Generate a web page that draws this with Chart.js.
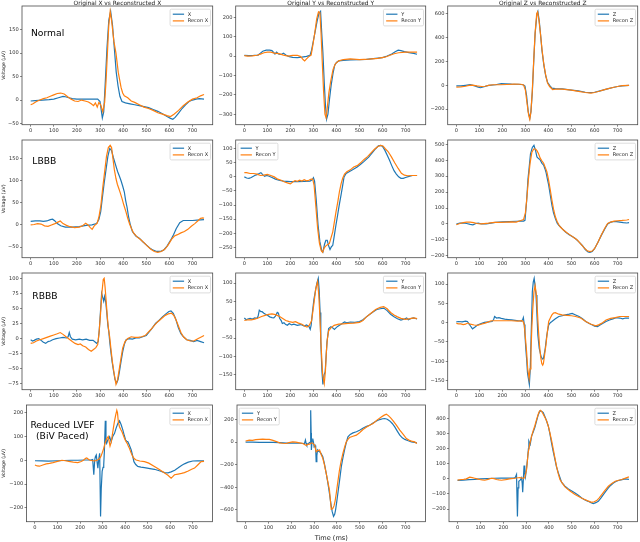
<!DOCTYPE html>
<html><head><meta charset="utf-8">
<script src="https://cdn.jsdelivr.net/npm/chart.js@4.4.1/dist/chart.umd.min.js"></script>
<style>
html,body{margin:0;padding:0;background:#fff;}
#fig{position:relative;width:640px;height:542px;overflow:hidden;background:#fff;}
#fig canvas{position:absolute;}
</style></head><body><div id="fig"></div>
<script>
// ---------------- DATA: [time (ms), voltage (uV)] ----------------
const normalX_orig = [[0,-2],[20,-1],[50,0],[80,1],[100,2],[120,5],[140,8],[150,7],[165,5],[180,3],[200,2],[230,2],[260,2],[290,2],[300,-3],[310,-38],[316,-25],[322,30],[330,110],[338,170],[346,189],[354,160],[362,110],[370,60],[378,30],[386,8],[395,-3],[410,-6],[430,-8],[450,-10],[470,-12],[490,-14],[510,-16],[530,-20],[550,-24],[570,-29],[590,-35],[605,-39],[615,-41],[625,-37],[640,-28],[655,-18],[670,-10],[685,-3],[700,0],[715,2],[730,3],[750,2]];
const normalX_recon = [[0,-10],[10,-8],[25,-3],[40,0],[55,3],[70,5],[85,8],[100,11],[115,14],[130,15],[145,13],[160,7],[175,2],[190,-2],[205,-3],[220,0],[235,-2],[250,-4],[262,-8],[272,-12],[280,-6],[288,-15],[295,-5],[303,-10],[312,-25],[320,-5],[326,40],[332,100],[338,160],[344,189],[350,170],[360,125],[369,100],[379,59],[391,27],[398,15],[405,9],[420,5],[435,-2],[450,-5],[470,-10],[490,-15],[510,-18],[530,-22],[550,-27],[570,-30],[590,-33],[605,-35],[620,-30],[640,-22],[660,-12],[680,-4],[700,2],[720,5],[735,9],[750,12]];
const normalY_orig = [[0,3],[20,2],[40,3],[60,5],[70,15],[80,25],[95,30],[110,30],[120,28],[128,18],[133,10],[140,20],[150,10],[160,8],[170,15],[180,5],[195,-3],[210,-7],[230,-8],[250,-6],[270,-2],[285,3],[292,30],[300,80],[308,130],[316,180],[324,220],[331,230],[336,120],[341,20],[347,-137],[352,-250],[357,-326],[363,-300],[370,-220],[377,-150],[385,-90],[392,-49],[400,-33],[410,-25],[430,-22],[460,-20],[500,-19],[530,-17],[560,-13],[600,-8],[620,0],[640,10],[655,22],[668,30],[680,28],[695,23],[715,18],[735,14],[750,9]];
const normalY_recon = [[0,2],[15,0],[35,1],[55,4],[70,10],[85,17],[100,20],[115,20],[130,15],[150,12],[170,5],[190,0],[210,3],[230,4],[245,-3],[255,-18],[262,-25],[270,-15],[280,-3],[290,5],[298,60],[306,120],[314,190],[322,228],[328,225],[333,120],[338,-20],[344,-180],[350,-300],[355,-318],[360,-270],[367,-190],[375,-130],[385,-70],[395,-40],[410,-25],[430,-18],[460,-15],[500,-18],[540,-16],[580,-12],[610,-6],[630,3],[650,12],[670,17],[700,20],[730,20],[750,20]];
const normalZ_orig = [[0,-5],[20,-5],[40,0],[60,5],[80,-5],[95,-15],[105,-20],[120,-12],[140,0],[170,5],[195,14],[215,12],[240,10],[270,9],[290,5],[298,-6],[305,-85],[312,-220],[319,-276],[324,-220],[330,-56],[336,200],[342,430],[350,600],[354,620],[360,540],[366,420],[372,290],[380,170],[388,80],[396,25],[405,0],[415,-23],[430,-27],[460,-30],[500,-40],[530,-47],[560,-58],[580,-62],[600,-58],[620,-48],[640,-38],[660,-28],[680,-18],[700,-10],[720,-5],[750,0]];
const normalZ_recon = [[0,-15],[20,-13],[40,-8],[55,0],[70,2],[90,-5],[110,-10],[125,-8],[140,0],[160,5],[190,5],[220,7],[250,10],[280,9],[292,3],[300,-40],[307,-150],[314,-250],[319,-285],[324,-220],[330,-40],[336,210],[342,440],[349,600],[353,615],[359,540],[366,420],[372,300],[380,175],[388,85],[396,20],[405,-10],[418,-35],[430,-32],[460,-32],[500,-40],[530,-50],[560,-60],[585,-65],[600,-60],[620,-50],[640,-38],[660,-28],[680,-18],[700,-10],[720,-3],[750,0]];

const lbbbX_orig = [[0,8],[20,9],[40,9],[55,8],[70,9],[85,12],[95,13],[105,9],[115,3],[130,-2],[150,-5],[180,-5],[210,-4],[240,-1],[265,0],[285,3],[295,12],[303,30],[311,65],[318,95],[326,125],[334,155],[342,173],[350,168],[358,152],[366,138],[376,121],[384,110],[391,100],[398,88],[405,75],[411,55],[417,40],[423,20],[430,3],[440,-15],[455,-25],[470,-30],[485,-38],[500,-45],[515,-52],[530,-57],[545,-60],[560,-60],[575,-57],[590,-48],[605,-35],[618,-22],[630,-8],[645,5],[660,10],[680,10],[700,10],[720,11],[750,12]];
const lbbbX_recon = [[0,0],[15,1],[30,3],[45,2],[60,-2],[75,-3],[90,0],[105,3],[120,7],[128,9],[140,3],[155,-1],[170,-4],[190,-6],[210,-5],[225,-2],[238,4],[248,0],[258,-6],[266,-10],[275,-2],[288,4],[296,20],[304,45],[312,85],[320,120],[328,155],[336,175],[344,180],[350,175],[356,150],[362,125],[369,105],[375,92],[381,83],[388,72],[395,60],[403,45],[412,30],[420,15],[428,2],[436,-8],[445,-18],[460,-27],[475,-33],[490,-40],[505,-48],[520,-55],[535,-60],[550,-62],[565,-60],[580,-55],[595,-45],[610,-32],[622,-25],[635,-22],[650,-18],[665,-15],[680,-10],[695,-3],[710,3],[725,10],[735,15],[745,16],[750,15]];
const lbbbY_orig = [[0,0],[10,-4],[20,-5],[30,-2],[45,5],[55,8],[65,12],[72,15],[80,8],[88,2],[96,5],[105,3],[120,-2],[135,-8],[150,-12],[170,-15],[200,-17],[230,-17],[260,-16],[285,-15],[295,-10],[300,-3],[305,-15],[312,-80],[320,-170],[328,-230],[336,-262],[341,-267],[348,-240],[354,-225],[360,-225],[366,-245],[372,-258],[378,-248],[384,-243],[391,-207],[398,-170],[405,-136],[412,-100],[420,-64],[427,-30],[433,0],[442,12],[455,18],[470,25],[490,35],[505,45],[520,55],[540,70],[555,85],[570,100],[582,110],[592,112],[600,108],[610,95],[620,78],[630,60],[640,40],[650,22],[660,10],[670,0],[680,-5],[690,-5],[700,-2],[715,2],[730,5],[750,5]];
const lbbbY_recon = [[0,15],[10,15],[25,12],[40,12],[55,10],[70,5],[85,6],[100,9],[115,5],[130,0],[145,-8],[160,-12],[175,-18],[190,-22],[200,-25],[210,-18],[220,-13],[230,-16],[240,-12],[250,-15],[260,-10],[270,-14],[280,-12],[290,-8],[297,-8],[303,-30],[310,-100],[318,-180],[326,-235],[334,-262],[340,-268],[347,-252],[354,-245],[362,-240],[369,-237],[377,-215],[384,-195],[391,-160],[398,-124],[406,-88],[413,-52],[420,-25],[427,-5],[435,10],[445,18],[460,25],[475,35],[490,40],[505,50],[520,62],[535,72],[550,85],[565,98],[580,108],[592,112],[602,110],[612,100],[624,90],[638,72],[653,50],[668,30],[682,13],[695,6],[710,4],[730,5],[750,5]];
const lbbbZ_orig = [[0,0],[15,5],[30,6],[45,3],[60,-3],[72,-5],[85,3],[95,5],[110,0],[130,0],[150,5],[170,10],[200,13],[230,15],[260,17],[280,18],[292,18],[298,23],[305,139],[311,280],[316,350],[322,440],[330,480],[337,493],[344,460],[350,420],[357,410],[364,402],[372,380],[379,370],[385,345],[390,320],[395,285],[401,244],[408,180],[415,118],[422,70],[430,34],[438,5],[445,-8],[459,-29],[474,-50],[490,-68],[505,-80],[518,-93],[532,-112],[547,-135],[560,-160],[572,-176],[580,-178],[590,-172],[600,-155],[615,-115],[630,-70],[645,-30],[657,0],[668,10],[680,15],[695,15],[710,12],[725,8],[740,6],[750,8]];
const lbbbZ_recon = [[0,-5],[15,3],[30,8],[45,12],[60,12],[75,8],[90,3],[105,0],[120,2],[140,5],[165,10],[190,10],[215,12],[240,13],[260,12],[280,22],[292,28],[300,70],[306,160],[313,280],[320,380],[328,450],[336,470],[344,470],[350,460],[357,440],[364,413],[372,395],[379,381],[386,355],[393,328],[400,280],[408,213],[415,150],[423,86],[430,45],[437,17],[445,-5],[452,-19],[465,-38],[480,-55],[495,-70],[510,-85],[525,-100],[540,-125],[555,-150],[568,-168],[580,-173],[590,-170],[600,-155],[615,-115],[630,-68],[645,-25],[657,3],[670,12],[685,18],[700,20],[720,22],[740,25],[750,28]];

const rbbbX_orig = [[0,-2],[8,-4],[15,-3],[25,-1],[35,0],[45,-3],[55,-6],[65,-8],[75,-5],[85,-4],[95,-2],[110,0],[125,1],[140,2],[155,1],[162,3],[167,10],[172,3],[180,-1],[195,-2],[210,-1],[225,-2],[240,-1],[255,-3],[270,-3],[280,-6],[286,-8],[292,-5],[297,15],[302,45],[307,75],[312,68],[316,62],[320,70],[325,60],[330,40],[334,22],[338,12],[342,-5],[347,-22],[353,-40],[359,-55],[365,-68],[372,-74],[378,-68],[384,-55],[391,-38],[398,-22],[405,-10],[413,-2],[425,0],[440,-1],[455,1],[470,1],[485,3],[500,5],[510,10],[525,17],[540,25],[555,30],[570,36],[585,41],[598,45],[607,46],[617,42],[627,33],[639,18],[650,8],[661,3],[675,-2],[690,-3],[705,-5],[720,-3],[735,-5],[750,-7]];
const rbbbX_recon = [[0,-8],[12,-7],[25,-4],[40,-2],[55,0],[70,2],[85,4],[100,6],[115,8],[128,10],[140,7],[150,4],[160,1],[170,-2],[180,-5],[192,-8],[205,-10],[215,-9],[225,-12],[238,-14],[250,-18],[262,-21],[272,-18],[282,-15],[290,-10],[296,10],[302,40],[308,75],[314,98],[318,100],[322,85],[327,60],[332,34],[337,15],[342,2],[348,-20],[354,-40],[362,-60],[369,-76],[376,-68],[384,-49],[391,-32],[398,-16],[408,-5],[420,0],[435,3],[450,2],[465,2],[480,3],[495,5],[507,10],[520,15],[535,22],[550,28],[565,33],[580,38],[595,41],[610,42],[620,38],[630,30],[640,20],[650,10],[661,3],[675,-2],[690,-4],[705,-4],[715,-2],[725,0],[740,3],[750,5]];
const rbbbY_orig = [[0,5],[8,0],[15,2],[25,4],[35,2],[45,5],[55,4],[60,10],[65,26],[72,22],[77,22],[85,18],[92,15],[99,13],[110,8],[120,6],[128,5],[135,10],[143,20],[148,18],[153,4],[160,-2],[165,-10],[172,-8],[180,-13],[187,-15],[195,-10],[205,-14],[215,-12],[230,-15],[245,-13],[260,-17],[270,-14],[281,-19],[286,-26],[290,-15],[296,22],[302,55],[308,76],[315,100],[321,113],[325,80],[329,20],[332,-60],[337,-140],[341,-176],[346,-150],[351,-142],[355,-100],[359,-60],[366,-24],[376,-19],[384,-22],[391,-26],[398,-22],[405,-18],[415,-14],[425,-10],[435,-6],[445,-8],[460,-6],[480,-7],[500,-5],[515,0],[530,8],[545,15],[560,22],[575,28],[590,30],[605,32],[620,25],[635,15],[650,8],[665,3],[680,-1],[695,2],[705,5],[712,0],[722,3],[735,5],[750,2]];
const rbbbY_recon = [[0,-2],[15,0],[30,0],[45,2],[60,5],[75,9],[90,12],[105,15],[120,16],[135,14],[150,10],[165,4],[180,-2],[195,-5],[210,-7],[222,-5],[235,-9],[250,-12],[262,-17],[272,-20],[282,-15],[292,-3],[298,25],[303,49],[310,85],[318,104],[323,70],[328,10],[334,-80],[340,-150],[347,-174],[352,-140],[356,-90],[360,-55],[366,-30],[376,-22],[390,-15],[410,-12],[430,-11],[450,-10],[475,-9],[500,-7],[515,-2],[530,8],[550,18],[570,28],[590,34],[605,36],[620,30],[635,20],[650,13],[665,8],[680,4],[700,1],[720,3],[735,5],[750,3]];
const rbbbZ_orig = [[0,2],[10,3],[25,2],[40,4],[48,3],[55,-3],[63,-10],[70,-16],[80,-12],[92,-6],[105,-3],[122,1],[140,2],[155,3],[162,8],[166,16],[175,12],[185,13],[195,11],[210,9],[225,8],[240,7],[255,6],[270,5],[283,4],[288,8],[291,13],[295,-5],[298,-32],[302,-70],[305,-93],[309,-130],[313,-145],[317,-160],[321,-120],[325,-30],[330,80],[334,105],[338,115],[342,95],[346,72],[350,20],[354,-32],[360,-67],[368,-88],[374,-94],[378,-93],[386,-67],[393,-32],[401,-6],[408,0],[415,3],[430,10],[445,16],[460,18],[474,20],[490,22],[503,24],[518,20],[533,16],[548,10],[562,3],[577,-2],[591,-6],[600,-9],[613,-10],[624,-6],[635,-2],[650,3],[665,7],[680,10],[694,13],[710,12],[722,10],[735,12],[750,12]];
const rbbbZ_recon = [[0,-2],[10,-3],[19,-3],[30,-5],[40,-4],[48,-1],[60,-4],[78,-6],[92,-7],[107,-4],[125,-1],[140,2],[151,5],[170,5],[190,5],[210,5],[240,5],[268,4],[285,5],[290,3],[295,-6],[300,-40],[305,-75],[310,-120],[316,-145],[320,-120],[324,-75],[328,-10],[332,37],[337,80],[342,96],[347,75],[352,29],[356,-15],[361,-58],[366,-88],[371,-106],[375,-110],[378,-106],[383,-85],[389,-58],[395,-25],[401,3],[408,12],[415,20],[422,25],[430,26],[445,22],[459,20],[480,19],[500,18],[518,16],[540,12],[562,3],[585,-4],[606,-8],[620,-5],[635,0],[650,7],[670,11],[690,13],[709,16],[730,16],[750,16]];

const lvefX_orig = [[0,-2],[30,-3],[60,-4],[100,-2],[130,-1],[160,0],[190,0],[220,1],[250,2],[256,3],[261,-61],[265,0],[268,15],[272,22],[276,-10],[279,-33],[283,5],[287,29],[291,-236],[294,-120],[298,-47],[302,-30],[305,-20],[308,40],[312,166],[315,80],[318,71],[323,85],[331,99],[338,78],[345,100],[353,113],[360,135],[368,155],[375,166],[382,150],[390,127],[396,105],[402,85],[407,80],[412,78],[418,65],[427,43],[433,20],[439,-6],[447,-18],[456,-26],[470,-29],[486,-31],[510,-35],[530,-38],[555,-45],[575,-52],[590,-53],[604,-49],[620,-42],[634,-33],[650,-22],[663,-15],[680,-8],[700,-3],[720,-2],[737,-3],[750,-3]];
const lvefX_recon = [[0,-20],[10,-24],[20,-25],[35,-20],[50,-15],[65,-13],[80,-10],[100,-5],[120,0],[135,-2],[150,-5],[170,-8],[190,-10],[205,-5],[215,0],[225,8],[230,10],[238,3],[245,0],[255,-2],[265,-3],[275,0],[285,5],[292,15],[298,30],[305,50],[312,75],[318,90],[325,100],[329,80],[333,60],[338,75],[342,100],[347,130],[352,160],[358,190],[363,210],[366,200],[370,160],[375,141],[380,130],[386,120],[392,105],[397,92],[403,80],[409,71],[414,60],[419,50],[426,32],[434,15],[441,6],[449,1],[465,-3],[486,-6],[505,-12],[530,-26],[550,-38],[575,-54],[590,-63],[604,-75],[610,-70],[619,-61],[635,-58],[650,-55],[663,-52],[680,-45],[695,-38],[708,-33],[722,-20],[737,-6],[750,-5]];
const lvefY_orig = [[0,0],[30,0],[60,-2],[90,-1],[120,-3],[150,-5],[180,-8],[210,-8],[240,-10],[258,-12],[262,18],[265,-10],[268,-26],[273,-15],[279,-5],[283,0],[285,282],[287,80],[288,-70],[291,10],[294,32],[297,0],[300,-41],[304,-30],[307,-60],[309,-173],[312,-120],[315,-70],[319,-80],[324,-85],[330,-100],[338,-129],[345,-190],[353,-276],[360,-360],[367,-453],[373,-540],[379,-614],[385,-658],[390,-640],[394,-600],[399,-530],[404,-453],[412,-330],[419,-218],[426,-140],[433,-70],[440,-10],[448,47],[458,68],[470,82],[485,92],[499,106],[515,125],[530,140],[543,150],[558,170],[573,188],[587,200],[600,207],[609,209],[620,203],[631,188],[642,165],[653,135],[664,98],[675,62],[686,38],[697,24],[712,12],[726,3],[740,-2],[750,-6]];
const lvefY_recon = [[0,10],[16,18],[30,15],[45,22],[60,25],[75,26],[90,25],[104,24],[120,15],[135,5],[148,-6],[162,-10],[177,-12],[190,-5],[206,3],[220,0],[236,-6],[248,-10],[258,-21],[266,-30],[272,-20],[280,-18],[286,-10],[291,-6],[297,-15],[302,-26],[306,-60],[309,-85],[315,-75],[324,-70],[331,-110],[338,-144],[345,-200],[353,-276],[360,-350],[367,-423],[372,-530],[375,-594],[381,-590],[387,-565],[392,-520],[397,-453],[404,-350],[411,-247],[418,-170],[426,-100],[434,-40],[441,3],[448,25],[455,41],[470,52],[485,62],[500,85],[514,112],[530,135],[545,152],[558,165],[575,195],[594,223],[605,237],[616,247],[625,235],[635,215],[646,188],[660,150],[675,106],[690,68],[704,32],[715,18],[726,9],[740,2],[750,-12]];
const lvefZ_orig = [[0,-10],[25,-8],[50,-5],[75,-3],[100,0],[130,2],[160,4],[190,5],[220,5],[245,5],[252,8],[258,29],[262,-249],[265,-60],[268,-16],[274,-8],[280,7],[283,-30],[285,-89],[288,0],[291,89],[294,40],[297,13],[301,60],[306,129],[310,200],[312,251],[315,240],[318,229],[324,284],[331,310],[338,340],[345,380],[352,420],[360,451],[368,448],[375,440],[386,400],[397,351],[404,300],[411,240],[418,185],[426,129],[433,80],[441,40],[448,10],[455,-22],[470,-48],[485,-67],[500,-80],[514,-93],[530,-110],[543,-127],[558,-140],[572,-149],[584,-158],[594,-164],[605,-158],[616,-149],[627,-128],[638,-104],[650,-80],[660,-60],[671,-42],[682,-27],[693,-17],[704,-11],[720,-5],[733,0],[750,-3]];
const lvefZ_recon = [[0,-8],[16,-4],[27,-3],[38,0],[45,5],[53,11],[64,8],[75,4],[86,0],[97,-4],[108,-7],[119,-9],[133,-3],[148,4],[160,2],[170,-4],[181,-7],[192,-9],[210,-5],[228,0],[250,4],[272,9],[280,7],[287,4],[294,7],[302,62],[309,173],[316,230],[324,284],[331,320],[338,351],[346,395],[353,429],[358,448],[363,455],[369,445],[375,429],[383,405],[390,384],[397,350],[404,307],[412,250],[419,196],[426,140],[433,84],[440,38],[448,-4],[459,-30],[470,-53],[492,-80],[514,-104],[536,-122],[558,-138],[573,-148],[587,-156],[598,-152],[609,-144],[620,-126],[631,-104],[645,-77],[660,-49],[675,-30],[690,-16],[705,-9],[719,-4],[735,5],[750,13]];

// ---------------- TICKS ----------------
const xTicks = [0,100,200,300,400,500,600,700];
const yTicks_normalX = [-50,0,50,100,150];
const yTicks_normalY = [-300,-200,-100,0,100,200];
const yTicks_normalZ = [-200,0,200,400,600];
const yTicks_lbbbX = [-50,0,50,100,150];
const yTicks_lbbbY = [-250,-200,-150,-100,-50,0,50,100];
const yTicks_lbbbZ = [-200,-100,0,100,200,300,400,500];
const yTicks_rbbbX = [-75,-50,-25,0,25,50,75,100];
const yTicks_rbbbY = [-150,-100,-50,0,50,100];
const yTicks_rbbbZ = [-150,-100,-50,0,50,100];
const yTicks_lvefX = [-200,-100,0,100,200];
const yTicks_lvefY = [-600,-400,-200,0,200];
const yTicks_lvefZ = [-200,-100,0,100,200,300,400];

const columnTitles = ['Original X vs Reconstructed X','Original Y vs Reconstructed Y','Original Z vs Reconstructed Z'];
const seriesLabels = [['X','Recon X'],['Y','Recon Y'],['Z','Recon Z']];

// ---------------- LAYOUT ----------------
const FONT = '"DejaVu Sans", "Liberation Sans", sans-serif';
const BLUE = '#1f77b4', ORANGE = '#ff7f0e';
const colsA = [[22,212.7],[235.7,425.7],[447.7,637.7]];
const colsB = [[26.5,212.5],[237,425.5],[449,637.5]];
const rowsY = [[6,124.7],[140,257.7],[273,389.7],[405,521.7]];

const rowsData = [
  {series:[[normalX_orig,normalX_recon],[normalY_orig,normalY_recon],[normalZ_orig,normalZ_recon]], ticks:[yTicks_normalX,yTicks_normalY,yTicks_normalZ], legend:['ur','ur','ur']},
  {series:[[lbbbX_orig,lbbbX_recon],[lbbbY_orig,lbbbY_recon],[lbbbZ_orig,lbbbZ_recon]], ticks:[yTicks_lbbbX,yTicks_lbbbY,yTicks_lbbbZ], legend:['ur','ul','ur']},
  {series:[[rbbbX_orig,rbbbX_recon],[rbbbY_orig,rbbbY_recon],[rbbbZ_orig,rbbbZ_recon]], ticks:[yTicks_rbbbX,yTicks_rbbbY,yTicks_rbbbZ], legend:['ur','ur','ur']},
  {series:[[lvefX_orig,lvefX_recon],[lvefY_orig,lvefY_recon],[lvefZ_orig,lvefZ_recon]], ticks:[yTicks_lvefX,yTicks_lvefY,yTicks_lvefZ], legend:['ur','ul','ur']}
];
const notes = [
  [{text:'Normal', x:31, y:36, align:'left'}],
  [{text:'LBBB', x:32.3, y:164, align:'left'}],
  [{text:'RBBB', x:32.3, y:299, align:'left'}],
  [{text:'Reduced LVEF', x:62.5, y:428.3, align:'center'},{text:'(BiV Paced)', x:62.3, y:439.2, align:'center'}]
];

const fmt = v => (v < 0 ? '\u2212' + Math.abs(v) : String(v));
const toXY = arr => arr.map(p => ({x:p[0], y:p[1]}));

// spine + legend + free text plugin
const decor = {
  id:'decor',
  afterDraw(chart, args, o) {
    const ctx = chart.ctx, a = chart.chartArea;
    ctx.save();
    ctx.strokeStyle = '#4a4a4a'; ctx.lineWidth = 0.8;
    ctx.strokeRect(a.left, a.top, a.right - a.left, a.bottom - a.top);
    const ds = chart.data.datasets;
    ctx.font = '5px ' + FONT;
    const tw = Math.max(...ds.map(d => ctx.measureText(d.label).width));
    const w = 2.7 + 11.3 + 3.7 + tw + 2.4, h = 16.7;
    const bx = o.corner === 'ur' ? a.right - 2.2 - w : a.left + 2.2;
    const by = a.top + 3.2;
    ctx.beginPath();
    if (ctx.roundRect) ctx.roundRect(bx, by, w, h, 1.3); else ctx.rect(bx, by, w, h);
    ctx.fillStyle = 'rgba(255,255,255,0.85)'; ctx.fill();
    ctx.strokeStyle = '#cfcfcf'; ctx.lineWidth = 0.7; ctx.stroke();
    const order = [ds.find(d => d.label === o.labels[0]), ds.find(d => d.label === o.labels[1])];
    order.forEach((d, i) => {
      const yy = by + 5 + i * 6.7;
      ctx.strokeStyle = d.borderColor; ctx.lineWidth = 1.2;
      ctx.beginPath(); ctx.moveTo(bx + 2.7, yy); ctx.lineTo(bx + 14, yy); ctx.stroke();
      ctx.fillStyle = '#262626'; ctx.textAlign = 'left'; ctx.textBaseline = 'middle';
      ctx.fillText(d.label, bx + 17.7, yy + 0.2);
    });
    (o.texts || []).forEach(t => {
      ctx.font = t.size + 'px ' + FONT;
      ctx.fillStyle = t.color || '#111';
      ctx.textAlign = t.align; ctx.textBaseline = 'alphabetic';
      ctx.fillText(t.text, t.x - o.ox, t.y - o.oy);
    });
    ctx.restore();
  }
};

const fig = document.getElementById('fig');
rowsData.forEach((row, r) => {
  const cols = r === 3 ? colsB : colsA;
  const [T, B] = rowsY[r];
  for (let c = 0; c < 3; c++) {
    const [L, R] = cols[c];
    const cl = Math.floor(L - 34), ct = Math.floor(T - 12);
    const cw = Math.ceil(R - cl + 10), ch = Math.ceil(B - ct + 21);
    const ML = L - cl, MT = T - ct, MR = cw - (R - cl), MB = ch - (B - ct);
    const cv = document.createElement('canvas');
    cv.width = cw; cv.height = ch;
    cv.style.left = cl + 'px'; cv.style.top = ct + 'px';
    cv.style.width = cw + 'px'; cv.style.height = ch + 'px';
    fig.appendChild(cv);

    const [orig, recon] = row.series[c];
    const all = orig.concat(recon).map(p => p[1]);
    const lo = Math.min(...all), hi = Math.max(...all), pad = (hi - lo) * 0.05;
    const yT = row.ticks[c];
    const texts = [];
    if (r === 0) texts.push({text:columnTitles[c], x:(L + R) / 2, y:5.2, size:5.9, align:'center', color:'#1a1a1a'});
    if (c === 0) notes[r].forEach(n => texts.push({text:n.text, x:n.x, y:n.y, size:9.2, align:n.align, color:'#000'}));

    const tickFont = {family:FONT, size:5.1};
    new Chart(cv, {
      type:'line',
      data:{datasets:[
        {label:seriesLabels[c][1], data:toXY(recon), borderColor:ORANGE, borderWidth:1.2, pointRadius:0, tension:0, fill:false, order:0},
        {label:seriesLabels[c][0], data:toXY(orig), borderColor:BLUE, borderWidth:1.2, pointRadius:0, tension:0, fill:false, order:1}
      ]},
      options:{
        responsive:false, animation:false, devicePixelRatio:1,
        layout:{padding:{left:0, top:MT, right:MR, bottom:0}},
        plugins:{legend:{display:false}, tooltip:{enabled:false},
          decor:{corner:row.legend[c], labels:seriesLabels[c], texts, ox:cl, oy:ct}},
        scales:{
          x:{type:'linear', min:-37.5, max:787.5,
            afterBuildTicks:ax => { ax.ticks = xTicks.map(v => ({value:v})); },
            afterFit:ax => { ax.height = MB; },
            ticks:{font:tickFont, color:'#333', padding:1.3, maxRotation:0, minRotation:0, autoSkip:false, callback:fmt},
            grid:{display:true, drawOnChartArea:false, drawTicks:true, tickLength:2, tickColor:'#555', tickWidth:0.7},
            border:{display:false},
            title:{display:(r === 3 && c === 1), text:'Time (ms)', font:{family:FONT, size:6.6}, color:'#1a1a1a', padding:{top:0, bottom:1.2}}
          },
          y:{type:'linear', min:lo - pad, max:hi + pad,
            afterBuildTicks:ax => { ax.ticks = yT.map(v => ({value:v})); },
            afterFit:ax => { ax.width = ML; },
            ticks:{font:tickFont, color:'#333', padding:1.3, autoSkip:false, callback:fmt},
            grid:{display:true, drawOnChartArea:false, drawTicks:true, tickLength:2, tickColor:'#555', tickWidth:0.7},
            border:{display:false},
            title:{display:(c === 0), text:'Voltage (\u03bcV)', font:{family:FONT, size:4.7}, color:'#1a1a1a', padding:{top:(3.4 - cl) - 2.8, bottom:0}}
          }
        }
      },
      plugins:[decor]
    });
  }
});
</script></body></html>
